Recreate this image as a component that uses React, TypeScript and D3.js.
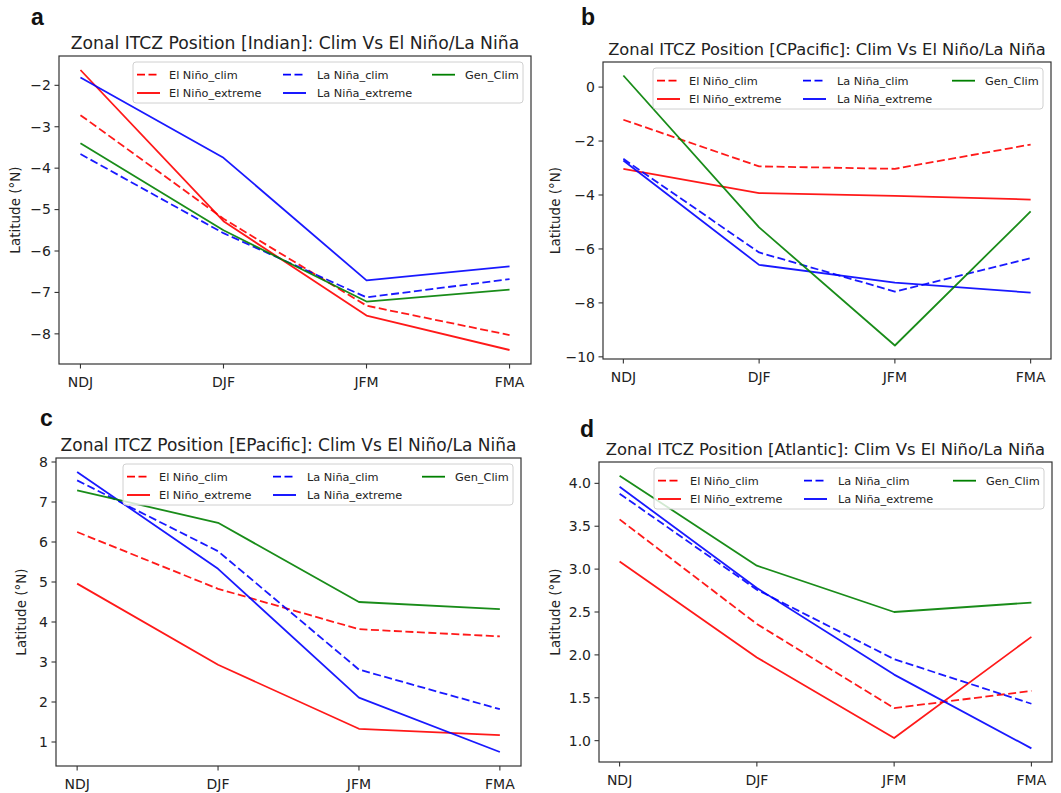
import * as d3 from 'd3';

const seasons = ['NDJ', 'DJF', 'JFM', 'FMA'];
const seriesNames = ['El Niño_clim', 'El Niño_extreme', 'La Niña_clim', 'La Niña_extreme', 'Gen_Clim'];
const seriesColors = ['#ff0000', '#ff0000', '#0000ff', '#0000ff', '#008000'];
const seriesDashed = [true, false, true, false, false];

// Indian
const indianElNinoClim = [-2.72, -5.22, -7.32, -8.03];
const indianElNinoExtreme = [-1.63, -5.28, -7.56, -8.39];
const indianLaNinaClim = [-3.66, -5.57, -7.12, -6.68];
const indianLaNinaExtreme = [-1.81, -3.75, -6.71, -6.37];
const indianGenClim = [-3.4, -5.5, -7.22, -6.93];

// Central Pacific
const cpacElNinoClim = [-1.21, -2.94, -3.03, -2.13];
const cpacElNinoExtreme = [-3.03, -3.93, -4.03, -4.17];
const cpacLaNinaClim = [-2.66, -6.13, -7.58, -6.34];
const cpacLaNinaExtreme = [-2.72, -6.59, -7.25, -7.62];
const cpacGenClim = [0.43, -5.2, -9.58, -4.61];

// Eastern Pacific
const epacElNinoClim = [6.25, 4.83, 3.82, 3.64];
const epacElNinoExtreme = [4.96, 2.93, 1.33, 1.17];
const epacLaNinaClim = [7.54, 5.77, 2.81, 1.82];
const epacLaNinaExtreme = [7.75, 5.33, 2.11, 0.75];
const epacGenClim = [7.29, 6.48, 4.5, 4.32];

// Atlantic
const atlElNinoClim = [3.58, 2.36, 1.38, 1.58];
const atlElNinoExtreme = [3.09, 1.97, 1.03, 2.21];
const atlLaNinaClim = [3.88, 2.76, 1.95, 1.43];
const atlLaNinaExtreme = [3.96, 2.78, 1.77, 0.91];
const atlGenClim = [4.09, 3.04, 2.5, 2.61];

const indianTicks = [-8, -7, -6, -5, -4, -3, -2];
const cpacTicks = [-10, -8, -6, -4, -2, 0];
const epacTicks = [1, 2, 3, 4, 5, 6, 7, 8];
const atlTicks = [1.0, 1.5, 2.0, 2.5, 3.0, 3.5, 4.0];

const panels = [
  {
    letter: 'a', basin: 'Indian', series: [indianElNinoClim, indianElNinoExtreme, indianLaNinaClim, indianLaNinaExtreme, indianGenClim],
    ticks: indianTicks, fmt: d3.format('d'), titleSize: 17.2,
    box: { left: 59, right: 531, top: 56, bottom: 364 }, letterPos: [31, 25], ylabX: 15,
  },
  {
    letter: 'b', basin: 'CPacific', series: [cpacElNinoClim, cpacElNinoExtreme, cpacLaNinaClim, cpacLaNinaExtreme, cpacGenClim],
    ticks: cpacTicks, fmt: d3.format('d'), titleSize: 16.3,
    box: { left: 603, right: 1051, top: 62, bottom: 359 }, letterPos: [581, 25], ylabX: 555,
  },
  {
    letter: 'c', basin: 'EPacific', series: [epacElNinoClim, epacElNinoExtreme, epacLaNinaClim, epacLaNinaExtreme, epacGenClim],
    ticks: epacTicks, fmt: d3.format('d'), titleSize: 17,
    box: { left: 56, right: 521, top: 458, bottom: 766 }, letterPos: [40, 426], ylabX: 21,
  },
  {
    letter: 'd', basin: 'Atlantic', series: [atlElNinoClim, atlElNinoExtreme, atlLaNinaClim, atlLaNinaExtreme, atlGenClim],
    ticks: atlTicks, fmt: d3.format('.1f'), titleSize: 16.4,
    box: { left: 599, right: 1052, top: 462, bottom: 762 }, letterPos: [580, 437], ylabX: 555,
  },
];

const font = '"DejaVu Sans", sans-serif';
const axisColor = '#333';

function Panel({ p }: { p: any }) {
  const { box } = p;
  const all = p.series.flat();
  const [mn, mx] = d3.extent(all) as [number, number];
  const pad = (mx - mn) * 0.05;

  const x = d3.scalePoint<string>().domain(seasons).range([box.left, box.right]).padding(0.15);
  const y = d3.scaleLinear().domain([mn - pad, mx + pad]).range([box.bottom, box.top]);

  const line = d3.line<number>()
    .x((_, i) => x(seasons[i]) as number)
    .y(d => y(d));

  const cx = (box.left + box.right) / 2;
  const cy = (box.top + box.bottom) / 2;

  // legend layout
  const lgW = 390, lgH = 41;
  const lgX = box.right - 8 - lgW;
  const lgY = box.top + 6;
  const cols = [
    { h: 4, t: 36 },
    { h: 150, t: 184 },
    { h: 299, t: 332 },
  ];

  return (
    <g>
      <text x={p.letterPos[0]} y={p.letterPos[1]} fontFamily='"Liberation Sans", Arial, sans-serif'
        fontWeight="bold" fontSize={23} fill="#111">{p.letter}</text>
      <text x={cx} y={box.top - 7} textAnchor="middle" fontFamily={font} fontSize={p.titleSize} fill="#222">
        {`Zonal ITCZ Position [${p.basin}]: Clim Vs El Niño/La Niña`}
      </text>

      {p.series.map((s: number[], i: number) => (
        <path key={i} d={line(s) as string} fill="none" stroke={seriesColors[i]} strokeWidth={1.8}
          strokeDasharray={seriesDashed[i] ? '8,3.5' : undefined} strokeLinejoin="round" opacity={0.9} />
      ))}

      <rect x={box.left} y={box.top} width={box.right - box.left} height={box.bottom - box.top}
        fill="none" stroke={axisColor} strokeWidth={1.2} />

      {p.ticks.map((t: number) => (
        <g key={t}>
          <line x1={box.left - 4.5} x2={box.left} y1={y(t)} y2={y(t)} stroke={axisColor} strokeWidth={1.1} />
          <text x={box.left - 8} y={y(t)} dy="0.35em" textAnchor="end" fontFamily={font} fontSize={14} fill="#222">
            {p.fmt(t)}
          </text>
        </g>
      ))}

      {seasons.map(s => (
        <g key={s}>
          <line x1={x(s)} x2={x(s)} y1={box.bottom} y2={box.bottom + 4.5} stroke={axisColor} strokeWidth={1.1} />
          <text x={x(s)} y={box.bottom + 23} textAnchor="middle" fontFamily={font} fontSize={14} fill="#222">{s}</text>
        </g>
      ))}

      <text transform={`translate(${p.ylabX},${cy}) rotate(-90)`} dy="0.35em" textAnchor="middle"
        fontFamily={font} fontSize={13.5} fill="#222">Latitude (°N)</text>

      <g>
        <rect x={lgX} y={lgY} width={lgW} height={lgH} rx={3} fill="white" fillOpacity={0.8} stroke="#d0d0d0" />
        {seriesNames.map((name, i) => {
          const c = cols[Math.floor(i / 2)];
          const ry = lgY + (i % 2 === 0 ? 12.7 : 31);
          return (
            <g key={name}>
              <line x1={lgX + c.h} x2={lgX + c.h + 23} y1={ry} y2={ry} stroke={seriesColors[i]} strokeWidth={1.8}
                strokeDasharray={seriesDashed[i] ? '8,3.5' : undefined} />
              <text x={lgX + c.t} y={ry} dy="0.35em" fontFamily={font} fontSize={11.3} fill="#222">{name}</text>
            </g>
          );
        })}
      </g>
    </g>
  );
}

export default function App() {
  return (
    <svg width={1061} height={793} style={{ position: 'absolute', left: 0, top: 0, background: 'white' }}>
      <rect width={1061} height={793} fill="white" />
      {panels.map(p => <Panel key={p.letter} p={p} />)}
    </svg>
  );
}
